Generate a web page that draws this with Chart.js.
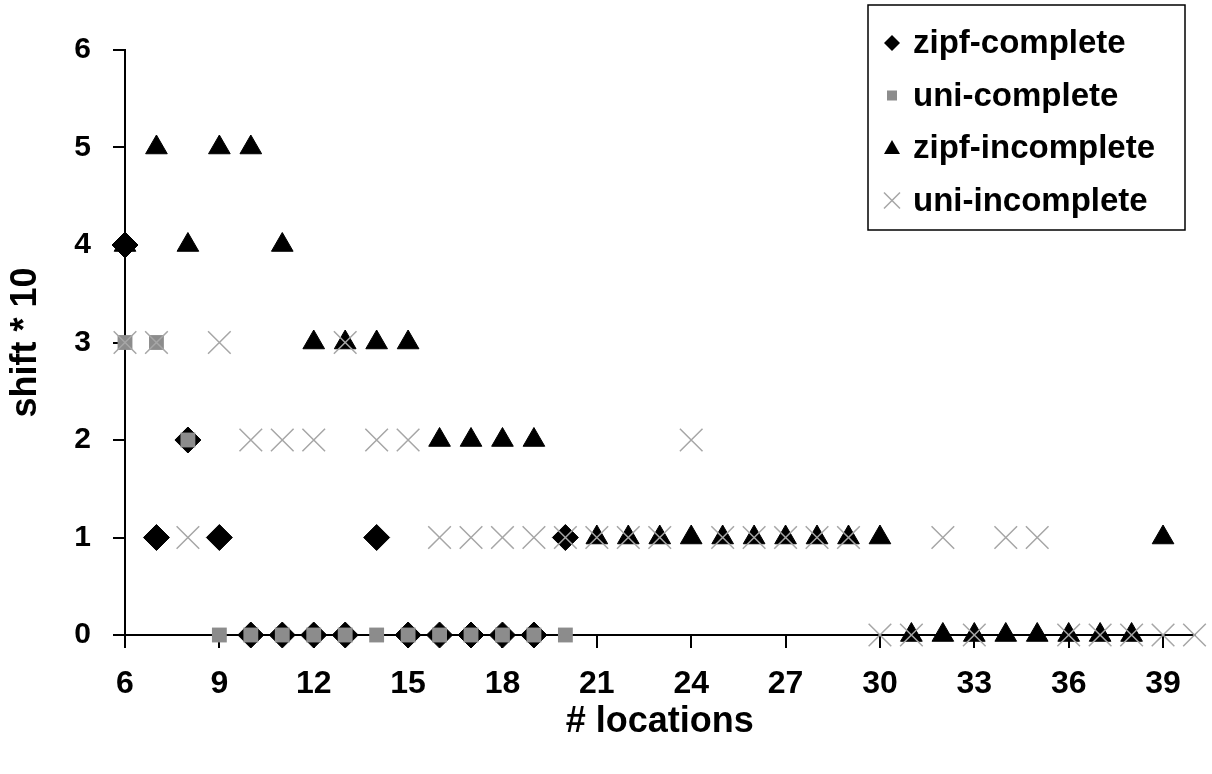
<!DOCTYPE html>
<html>
<head>
<meta charset="utf-8">
<script src="https://cdn.jsdelivr.net/npm/chart.js@4/dist/chart.umd.min.js"></script>
<style>
  body { margin: 0; background: #fff; }
  #wrap { width: 1212px; height: 774px; position: relative; }
</style>
</head>
<body>
<div id="wrap"><canvas id="chart"></canvas></div>
<script>
// number of locations (x) and shift*10 per series, null = no point
const locations = [6, 7, 8, 9, 10, 11, 12, 13, 14, 15, 16, 17, 18, 19, 20, 21, 22, 23, 24, 25, 26, 27, 28, 29, 30, 31, 32, 33, 34, 35, 36, 37, 38, 39, 40];
const zipfComplete = [4, 1, 2, 1, 0, 0, 0, 0, 1, 0, 0, 0, 0, 0, 1, null, null, null, null, null, null, null, null, null, null, null, null, null, null, null, null, null, null, null, null];
const uniComplete = [3, 3, 2, 0, 0, 0, 0, 0, 0, 0, 0, 0, 0, 0, 0, null, null, null, null, null, null, null, null, null, null, null, null, null, null, null, null, null, null, null, null];
const zipfIncomplete = [4, 5, 4, 5, 5, 4, 3, 3, 3, 3, 2, 2, 2, 2, null, 1, 1, 1, 1, 1, 1, 1, 1, 1, 1, 0, 0, 0, 0, 0, 0, 0, 0, 1, null];
const uniIncomplete = [3, 3, 1, 3, 2, 2, 2, 3, 2, 2, 1, 1, 1, 1, 1, 1, 1, 1, 2, 1, 1, 1, 1, 1, 0, 0, 1, 0, 1, 1, 0, 0, 0, 0, 0];
const xTicks = [6, 9, 12, 15, 18, 21, 24, 27, 30, 33, 36, 39];
const yTicks = [0, 1, 2, 3, 4, 5, 6];

const FONT = '"Liberation Sans", Arial, sans-serif';
const GREY_SQ = '#8c8c8c';
const GREY_X = '#a6a6a6';

function points(vals) {
  const out = [];
  locations.forEach((x, i) => {
    if (vals[i] !== null) out.push({ x: x, y: vals[i] });
  });
  return out;
}

// legend drawn as a boxed panel in the top right, like the original
const boxLegend = {
  id: 'boxLegend',
  afterDraw(chart) {
    const ctx = chart.ctx;
    const items = [
      { label: 'zipf-complete', shape: 'diamond' },
      { label: 'uni-complete', shape: 'square' },
      { label: 'zipf-incomplete', shape: 'triangle' },
      { label: 'uni-incomplete', shape: 'cross' }
    ];
    ctx.save();
    ctx.fillStyle = '#fff';
    ctx.fillRect(868, 5, 317, 225);
    ctx.strokeStyle = '#000';
    ctx.lineWidth = 1.5;
    ctx.strokeRect(868, 5, 317, 225);
    ctx.font = 'bold 33px ' + FONT;
    ctx.textBaseline = 'middle';
    items.forEach((it, i) => {
      const y = 43 + i * 52.5;
      const mx = 892;
      ctx.beginPath();
      if (it.shape === 'diamond') {
        ctx.fillStyle = '#000';
        ctx.moveTo(mx, y - 8); ctx.lineTo(mx + 8, y); ctx.lineTo(mx, y + 8); ctx.lineTo(mx - 8, y);
        ctx.closePath(); ctx.fill();
      } else if (it.shape === 'square') {
        ctx.fillStyle = GREY_SQ;
        ctx.fillRect(mx - 5, y - 5, 10, 10);
      } else if (it.shape === 'triangle') {
        ctx.fillStyle = '#000';
        ctx.moveTo(mx, y - 8); ctx.lineTo(mx + 8, y + 6); ctx.lineTo(mx - 8, y + 6);
        ctx.closePath(); ctx.fill();
      } else {
        ctx.strokeStyle = GREY_X;
        ctx.lineWidth = 1.5;
        ctx.moveTo(mx - 8, y - 8); ctx.lineTo(mx + 8, y + 8);
        ctx.moveTo(mx + 8, y - 8); ctx.lineTo(mx - 8, y + 8);
        ctx.stroke();
      }
      ctx.fillStyle = '#000';
      ctx.fillText(it.label, 913, y + 1);
    });
    ctx.restore();
  }
};

new Chart(document.getElementById('chart'), {
  type: 'scatter',
  data: {
    datasets: [
      {
        label: 'zipf-complete',
        data: points(zipfComplete),
        pointStyle: 'rectRot',
        pointRadius: 13,
        backgroundColor: '#000',
        borderColor: '#000',
        borderWidth: 1,
        clip: false,
        order: 3
      },
      {
        label: 'uni-complete',
        data: points(uniComplete),
        pointStyle: 'rect',
        pointRadius: 10.5,
        backgroundColor: GREY_SQ,
        borderColor: GREY_SQ,
        borderWidth: 0,
        clip: false,
        order: 2
      },
      {
        label: 'zipf-incomplete',
        data: points(zipfIncomplete),
        pointStyle: 'triangle',
        pointRadius: 12.5,
        backgroundColor: '#000',
        borderColor: '#000',
        borderWidth: 1,
        clip: false,
        order: 1
      },
      {
        label: 'uni-incomplete',
        data: points(uniIncomplete),
        pointStyle: 'crossRot',
        pointRadius: 16,
        backgroundColor: GREY_X,
        borderColor: GREY_X,
        borderWidth: 1.5,
        clip: false,
        order: 0
      }
    ]
  },
  options: {
    responsive: true,
    maintainAspectRatio: false,
    animation: false,
    layout: { padding: { top: 50, right: 17, left: 0, bottom: 0 } },
    plugins: {
      legend: { display: false },
      tooltip: { enabled: false }
    },
    scales: {
      x: {
        type: 'linear',
        position: 'bottom',
        min: 6,
        max: 40,
        afterBuildTicks: (axis) => { axis.ticks = xTicks.map(v => ({ value: v })); },
        afterFit: (axis) => { axis.height = 139; },
        grid: { drawOnChartArea: false, drawTicks: true, tickLength: 13, color: '#000', lineWidth: 2 },
        border: { display: true, color: '#000', width: 2 },
        ticks: { color: '#000', font: { family: FONT, size: 32, weight: 'bold' }, padding: 17, maxRotation: 0 },
        title: { display: true, text: '# locations', color: '#000', font: { family: FONT, size: 36, weight: 'bold' }, padding: { top: 0, bottom: 30 } }
      },
      y: {
        min: 0,
        max: 6,
        afterBuildTicks: (axis) => { axis.ticks = yTicks.map(v => ({ value: v })); },
        afterFit: (axis) => { axis.width = 125; },
        grid: { drawOnChartArea: false, drawTicks: true, tickLength: 12, color: '#000', lineWidth: 2 },
        border: { display: true, color: '#000', width: 2 },
        ticks: { color: '#000', font: { family: FONT, size: 30, weight: 'bold' }, padding: 22 },
        title: { display: true, text: 'shift * 10', color: '#000', font: { family: FONT, size: 36, weight: 'bold' }, padding: { top: 4, bottom: 0 } }
      }
    }
  },
  plugins: [boxLegend]
});
</script>
</body>
</html>
